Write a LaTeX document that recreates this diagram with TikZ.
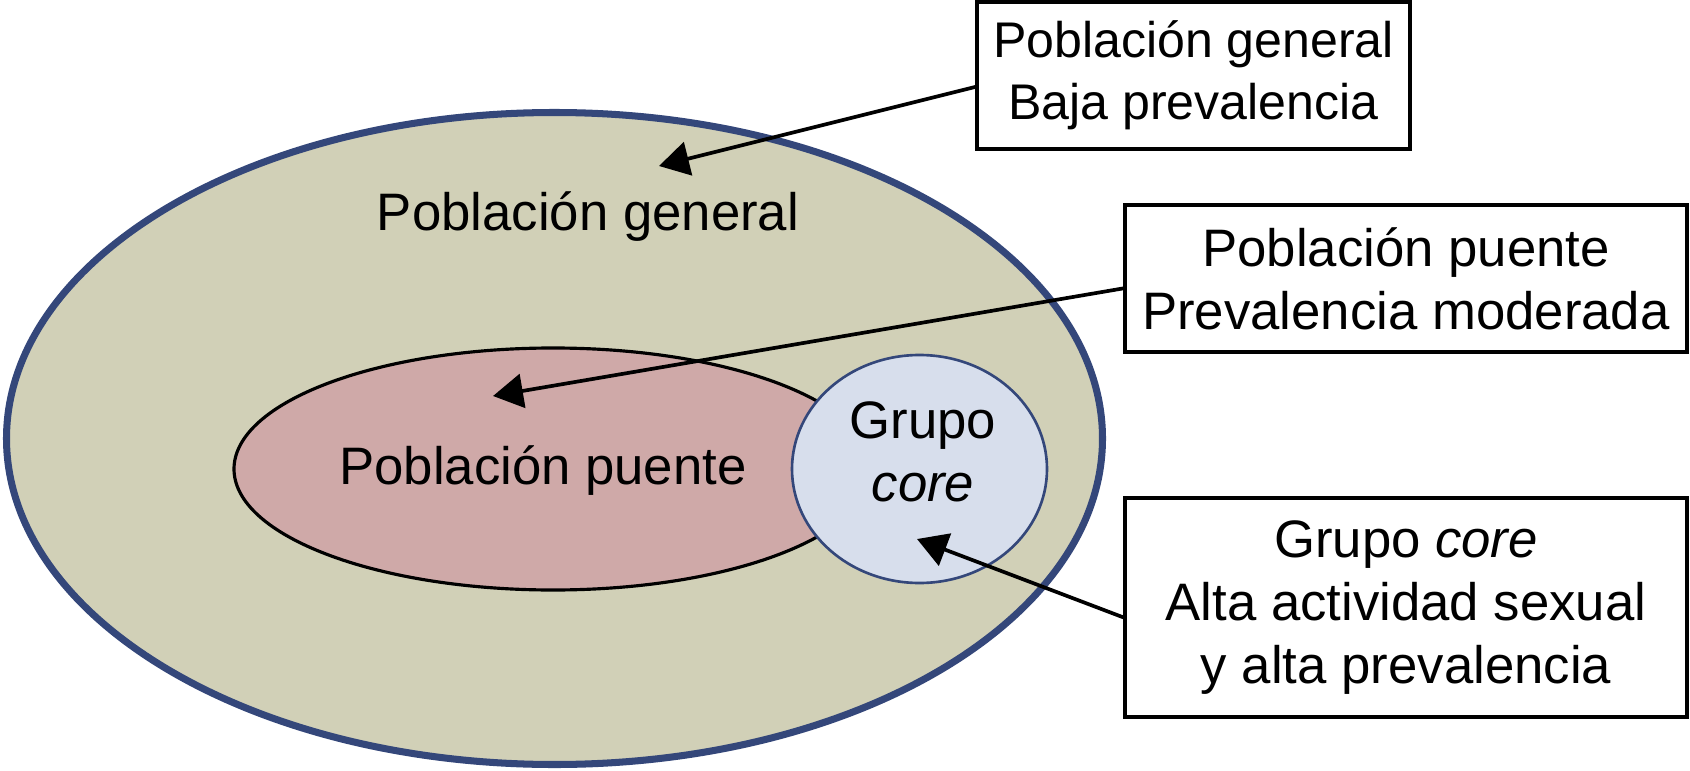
\documentclass[tikz,border=0pt]{standalone}
\usepackage{fontspec}
\setmainfont{Liberation Sans}
\usetikzlibrary{arrows.meta}

\definecolor{fondogeneral}{RGB}{209,208,183}
\definecolor{bordeazul}{RGB}{52,71,122}
\definecolor{rosapuente}{RGB}{207,169,168}
\definecolor{azulcore}{RGB}{215,222,236}

\begin{document}
\begin{tikzpicture}[font=\fontsize{30}{36}\selectfont]

        % Estilos de recuadros y flechas
        \tikzset{
            recuadro/.style={draw, line width=1.9pt, align=center, inner sep=0pt},
            flecha/.style={line width=2.1pt, -{Triangle[length=0.6cm, width=0.68cm]}}
        }

        % Marco fijo de la figura
        \useasboundingbox (0,0) rectangle (33.8,15.4);

        % Poblacion general (elipse exterior)
        \draw[fill=fondogeneral, draw=bordeazul, line width=4pt] (11.09,6.63) ellipse (10.96 and 6.52);

        % Poblacion puente y grupo core
        \draw[fill=rosapuente, line width=1.8pt] (11.06,6.02) ellipse (6.38 and 2.42);
        \draw[fill=azulcore, draw=bordeazul, line width=1.5pt] (18.39,6.02) ellipse (2.55 and 2.28);

        % Rotulos dentro de las elipses
        \node[anchor=base] (lblgeneral) at (11.76,10.8) {Población general};
        \node[anchor=base] (lblpuente) at (10.86,5.72) {Población puente};
        \node[align=center] (lblcore) at (18.46,6.36) {Grupo\\\textit{core}};

        % Recuadros explicativos a la derecha
        \node[recuadro, minimum width=8.66cm, minimum height=2.94cm,
              font=\fontsize{28.5}{35}\selectfont] (boxgeneral) at (23.87,13.89)
            {Población general\\Baja prevalencia};
        \node[recuadro, minimum width=11.24cm, minimum height=2.94cm] (boxpuente) at (28.12,9.83)
            {Población puente\\Prevalencia moderada};
        \node[recuadro, minimum width=11.24cm, minimum height=4.38cm] (boxcore) at (28.12,3.25)
            {Grupo \textit{core}\\Alta actividad sexual\\y alta prevalencia};

        % Puntas de las flechas
        \coordinate (tipgeneral) at (13.18,12.08);
        \coordinate (tippuente) at (9.86,7.48);
        \coordinate (tipcore) at (18.34,4.62);

        % Flechas
        \draw[flecha] (boxgeneral.183) -- (tipgeneral);
        \draw[flecha] (boxpuente.182) -- (tippuente);
        \draw[flecha] (boxcore.182) -- (tipcore);

\end{tikzpicture}
\end{document}
